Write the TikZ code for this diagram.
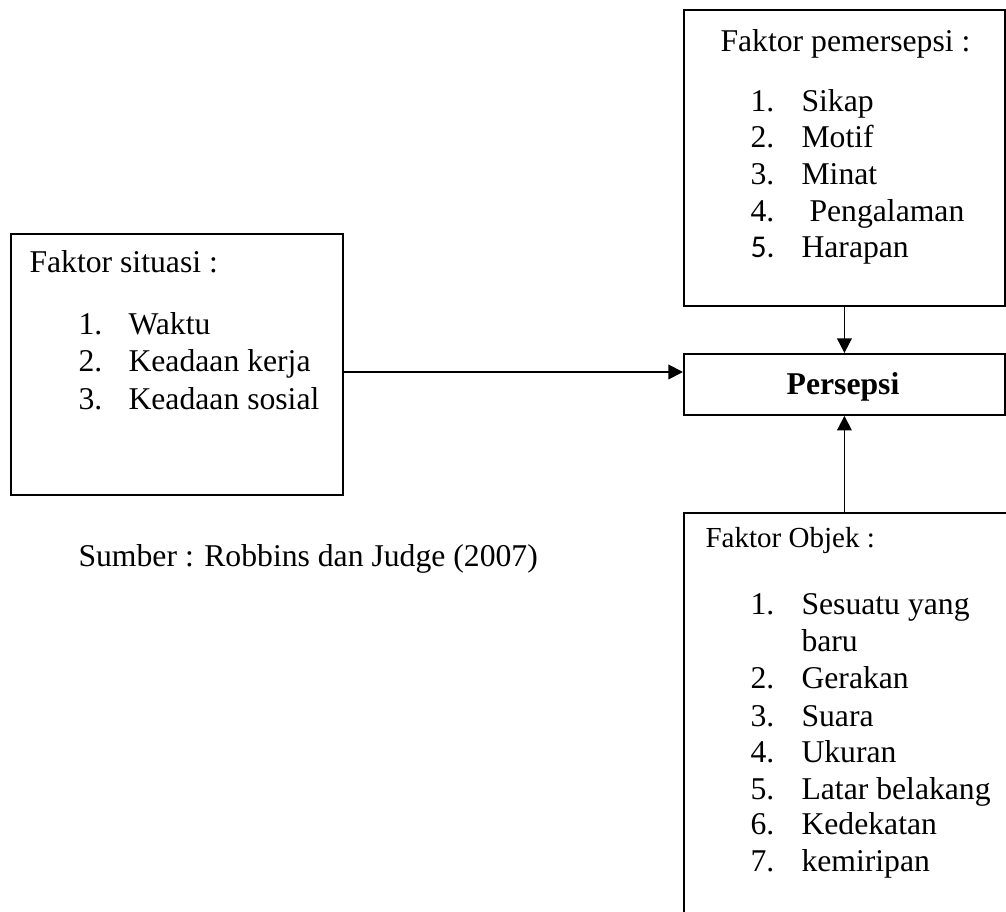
\documentclass[tikz,border=0pt]{standalone}
\usepackage{fontspec}
\setmainfont{Liberation Serif}
\newfontfamily\carlito{Carlito}
\usetikzlibrary{arrows.meta}
\begin{document}
\begin{tikzpicture}[x=0.3788pt, y=-0.3788pt, font=\fontsize{12}{14}\selectfont]
    % Node style
    \tikzstyle{box}=[draw, rectangle, line width=0.7pt, anchor=north west, inner sep=0pt]
    \tikzstyle{txt}=[anchor=base west, inner sep=0pt]
    \tikzstyle{arrow}=[line width=0.7pt, -{Triangle[length=5.5pt,width=5.5pt]}]

    % Page frame
    \useasboundingbox (0,0) rectangle (1006,912);
    \clip (0,0) rectangle (1006,912);

    % --- Faktor pemersepsi (top right) ---
    \node[box, minimum width=321*0.3788pt, minimum height=296*0.3788pt] (box_pem) at (683,9) {};
    \node[txt] (pem_title) at (720,52) {Faktor pemersepsi :};
    \node[txt] (pem_n1) at (750,112) {1.};
    \node[txt] (pem_i1) at (801,112) {Sikap};
    \node[txt] (pem_n2) at (750,148) {2.};
    \node[txt] (pem_i2) at (801,148) {Motif};
    \node[txt] (pem_n3) at (750,185) {3.};
    \node[txt] (pem_i3) at (801,185) {Minat};
    \node[txt] (pem_n4) at (750,222) {4.};
    \node[txt] (pem_i4) at (809,222) {Pengalaman};
    \node[txt] (pem_n5) at (750,258) {\carlito 5.}; % other font in source
    \node[txt] (pem_i5) at (801,258) {Harapan};

    % --- Faktor situasi (left) ---
    \node[box, minimum width=332*0.3788pt, minimum height=261*0.3788pt] (box_sit) at (10,233) {};
    \node[txt] (sit_title) at (29,273) {Faktor situasi :};
    \node[txt] (sit_n1) at (78,335) {1.};
    \node[txt] (sit_i1) at (128,335) {Waktu};
    \node[txt] (sit_n2) at (78,372) {2.};
    \node[txt] (sit_i2) at (128,372) {Keadaan kerja};
    \node[txt] (sit_n3) at (78,410) {3.};
    \node[txt] (sit_i3) at (128,410) {Keadaan sosial};

    % Source line
    \node[txt] (sumber) at (78,567) {Sumber : Robbins dan Judge (2007)};

    % --- Persepsi (centre right) ---
    \node[box, minimum width=321*0.3788pt, minimum height=61*0.3788pt] (box_per) at (683,353) {};
    \node[anchor=base, inner sep=0pt] (per_text) at (843,395) {\textbf{Persepsi}};

    % --- Faktor Objek (bottom right, runs off the page) ---
    \node[box, minimum width=420*0.3788pt, minimum height=500*0.3788pt] (box_obj) at (683,512) {};
    \node[txt, font=\fontsize{11}{13}\selectfont] (obj_title) at (705,548) {Faktor Objek :};
    \node[txt] (obj_n1) at (750,615) {1.};
    \node[txt] (obj_i1) at (801,615) {Sesuatu yang};
    \node[txt] (obj_i1b) at (801,652) {baru};
    \node[txt] (obj_n2) at (750,689) {2.};
    \node[txt] (obj_i2) at (801,689) {Gerakan};
    \node[txt] (obj_n3) at (750,727) {3.};
    \node[txt] (obj_i3) at (801,727) {Suara};
    \node[txt] (obj_n4) at (750,763) {4.};
    \node[txt] (obj_i4) at (801,763) {Ukuran};
    \node[txt] (obj_n5) at (750,800) {5.};
    \node[txt] (obj_i5) at (801,800) {Latar belakang};
    \node[txt] (obj_n6) at (750,835) {6.};
    \node[txt] (obj_i6) at (801,835) {Kedekatan};
    \node[txt] (obj_n7) at (750,872) {7.};
    \node[txt] (obj_i7) at (801,872) {kemiripan};

    % Arrows into Persepsi
    \coordinate (arrow_lvl) at (0,372);
    \draw[arrow] (box_sit.east |- arrow_lvl) -- (box_per.west |- arrow_lvl);
    \draw[arrow] (box_pem.south) -- (box_per.north);
    \draw[arrow] (box_per.south |- box_obj.north) -- (box_per.south);

\end{tikzpicture}
\end{document}
